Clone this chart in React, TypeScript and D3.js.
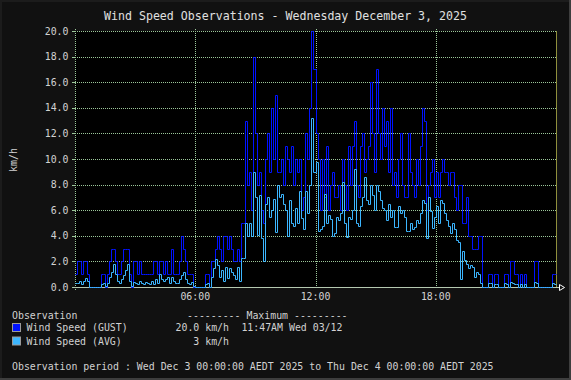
import React, { useEffect } from "react";
import * as d3 from "d3";

const TITLE = "Wind Speed Observations - Wednesday December 3, 2025";
const Y_TICKS = [0, 2, 4, 6, 8, 10, 12, 14, 16, 18, 20];
const X_TICKS = [6, 12, 18];
const X_TICK_LABELS = ["06:00", "12:00", "18:00"];
const STEP_HOURS = 0.1; // one sample every 6 minutes

// Wind gust (km/h), 00:00 -> 23:54, 6-minute steps
const gust = [
  1, 2, 2, 1, 2, 2, 1, 0, 0, 0, 0, 0, 0, 1, 1, 0, 1, 2, 3, 3,
  2, 1, 1, 2, 3, 3, 3, 1, 0, 2, 2, 1, 2, 1, 1, 1, 1, 1, 1, 2,
  2, 1, 2, 2, 1, 2, 1, 1, 3, 1, 1, 1, 2, 4, 3, 2, 1, 1, 1, 0,
  0, 0, 0, 0, 0, 1, 1, 0, 2, 2, 3, 4, 3, 2, 4, 4, 3, 4, 3, 2,
  2, 3, 2, 5, 5, 13, 8, 9, 6, 18, 12, 8, 9, 6, 5, 10, 12, 9, 14, 10,
  15, 9, 9, 10, 8, 11, 10, 9, 11, 8, 10, 9, 10, 6, 7, 12, 10, 14, 20, 17,
  12, 10, 6, 10, 7, 11, 6, 8, 9, 7, 7, 8, 6, 10, 8, 6, 11, 8, 11, 13,
  8, 7, 11, 12, 9, 10, 11, 16, 12, 9, 17, 12, 10, 14, 11, 13, 9, 14, 8, 9,
  7, 10, 12, 8, 7, 7, 12, 9, 8, 7, 10, 8, 11, 14, 13, 6, 8, 9, 10, 7,
  9, 7, 9, 10, 9, 9, 8, 9, 9, 7, 6, 8, 8, 5, 5, 7, 4, 4, 3, 3,
  3, 4, 4, 0, 0, 0, 1, 1, 0, 1, 1, 0, 0, 0, 1, 1, 0, 2, 2, 1,
  1, 0, 1, 0, 1, 0, 0, 0, 0, 2, 2, 0, 0, 0, 0, 0, 0, 0, 1, 1,
];

// Average wind speed (km/h)
const avg = [
  0.3, 0.3, 0.5, 0.2, 0.5, 0.7, 0.5, 0, 0, 0, 0, 0, 0, 0.2, 0.3, 0.1, 0.3, 0.8, 1.2, 1.8,
  1.0, 0.5, 0.3, 0.6, 0.9, 1.3, 1.8, 0.5, 0.1, 0.4, 0.3, 0.2, 0.5, 0.3, 0.2, 0.4, 0.3, 0.2, 0.5, 0.2,
  0.6, 0.3, 1.0, 0.6, 0.5, 0.6, 0.8, 0.3, 0.8, 0.5, 0.3, 0.3, 0.6, 0.9, 1.2, 0.6, 0.3, 0.2, 0.4, 0.1,
  0, 0, 0, 0, 0, 0.2, 0.3, 0, 0.8, 1.5, 2.2, 1.7, 0.8, 1.3, 0.5, 1.6, 0.7, 1.5, 1.2, 0.9,
  0.6, 1.6, 0.5, 2.3, 2.3, 5.0, 4.0, 5.0, 4.0, 9.0, 7.0, 4.1, 7.2, 3.8, 2.0, 6.5, 7.0, 5.5, 6.0, 6.9,
  4.3, 8.0, 7.0, 7.3, 6.5, 6.0, 4.0, 6.8, 5.0, 4.8, 6.2, 5.0, 7.5, 5.4, 4.5, 7.5, 5.8, 8.0, 13.2, 9.0,
  9.8, 4.4, 4.5, 4.8, 7.3, 5.0, 5.6, 5.3, 4.0, 4.2, 5.5, 5.2, 5.8, 8.2, 5.0, 3.9, 5.5, 5.3, 6.0, 9.2,
  5.0, 4.8, 6.3, 7.0, 8.6, 6.8, 6.5, 8.0, 7.2, 6.0, 8.0, 7.5, 6.8, 6.2, 6.0, 5.2, 6.5, 5.5, 6.0, 4.7,
  4.7, 6.3, 5.8, 6.0, 5.5, 4.4, 4.4, 5.0, 4.5, 4.7, 5.2, 5.0, 5.8, 6.8, 6.6, 3.8, 7.0, 5.9, 4.6, 5.5,
  6.3, 5.0, 6.8, 6.6, 5.8, 5.2, 4.8, 4.2, 5.0, 4.5, 3.7, 3.5, 0.6, 2.8, 2.1, 1.8, 1.5, 1.7, 1.6, 0.8,
  1.2, 1.0, 0.3, 0, 0, 0, 0.3, 0.3, 0, 0.2, 0.2, 0, 0, 0, 0.3, 0.2, 0, 0.4, 0.3, 0.2,
  0.2, 0, 0.2, 0, 0.2, 0, 0, 0, 0, 0.4, 0.3, 0, 0, 0, 0, 0, 0, 0, 0.3, 0.2,
];

const LEGEND_NAMES = ["Wind Speed (GUST)", "Wind Speed (AVG)"];
const LEGEND_MAX = ["20.0", "3"];
const LEGEND_UNIT = ["km/h", "km/h"];
const LEGEND_WHEN = ["11:47AM Wed 03/12", ""];
const PERIOD = "Observation period : Wed Dec 3 00:00:00 AEDT 2025 to Thu Dec 4 00:00:00 AEDT 2025";

const W = 571;
const H = 380;
const L = 75;
const R = 556;
const T = 31;
const B = 287;
const GUST_C = "#0012ff";
const AVG_C = "#3cb6ff";
const GRID_C = "#9cc79a";
const TEXT_C = "#d2d2d2";
const FONT = "'DejaVu Sans Mono', 'Liberation Mono', monospace";

export default function App() {
  useEffect(() => {
    document.body.style.margin = "0";
    document.body.style.background = "#111";
  }, []);

  const x = d3.scaleLinear().domain([0, 24]).range([L, R]);
  const y = d3.scaleLinear().domain([0, 20]).range([B, T]);

  const toPts = (arr: number[]) => {
    const pts = arr.map((v, i) => ({ t: i * STEP_HOURS, v }));
    pts.push({ t: 24, v: arr[arr.length - 1] });
    return pts;
  };
  const line = d3
    .line<{ t: number; v: number }>()
    .x((d) => Math.round(x(d.t)) + 0.5)
    .y((d) => Math.round(y(d.v)) + 0.5)
    .curve(d3.curveStepAfter);

  const gustPath = line(toPts(gust)) || "";
  const avgPath = line(toPts(avg)) || "";

  return (
    <svg
      width={W}
      height={H}
      style={{ position: "fixed", left: 0, top: 0, display: "block" }}
      fontFamily={FONT}
    >
      <rect x={0} y={0} width={W} height={H} fill="#111111" />
      <rect x={0} y={0} width={W} height={2} fill="#1c1c1c" />
      <rect x={0} y={0} width={2} height={H} fill="#1c1c1c" />
      <rect x={W - 2} y={0} width={2} height={H} fill="#3e3e3e" />
      <rect x={0} y={H - 2} width={W} height={2} fill="#3e3e3e" />

      <text x={W / 2} y={19.5} fill="#e0e0e0" fontSize={11.6} textAnchor="middle">
        {TITLE}
      </text>

      <rect x={L} y={T} width={R - L} height={B - T} fill="#000" />

      {/* horizontal grid */}
      {Y_TICKS.filter((v) => v > 0).map((v) => (
        <line
          key={"hg" + v}
          x1={L}
          x2={R}
          y1={Math.round(y(v)) + 0.5}
          y2={Math.round(y(v)) + 0.5}
          stroke={GRID_C}
          strokeDasharray="1,1"
          strokeWidth={1}
        />
      ))}
      {/* vertical grid */}
      {X_TICKS.map((h) => (
        <line
          key={"vg" + h}
          x1={Math.round(x(h)) + 0.5}
          x2={Math.round(x(h)) + 0.5}
          y1={T - 2}
          y2={B + 2}
          stroke={GRID_C}
          strokeDasharray="1,1"
          strokeWidth={1}
        />
      ))}
      {/* y tick marks */}
      {Y_TICKS.map((v) => (
        <line
          key={"yt" + v}
          x1={L - 3}
          x2={L}
          y1={Math.round(y(v)) + 0.5}
          y2={Math.round(y(v)) + 0.5}
          stroke={GRID_C}
          strokeWidth={1}
        />
      ))}
      {/* left axis */}
      <line x1={L + 0.5} x2={L + 0.5} y1={T - 2} y2={B + 3} stroke={GRID_C} strokeDasharray="1,1" />
      {/* right border */}
      <line x1={R + 0.5} x2={R + 0.5} y1={T} y2={B} stroke="#8f8f3c" strokeWidth={1} />
      {/* x axis */}
      <line x1={L - 2} x2={R + 7} y1={B + 0.5} y2={B + 0.5} stroke="#b4c8b0" strokeWidth={1} />
      <polygon
        points={`${R + 3.5},${B - 2.5} ${R + 8.5},${B + 0.5} ${R + 3.5},${B + 3.5}`}
        fill="#111"
        stroke="#ffffff"
        strokeWidth={1}
      />

      {/* data */}
      <path d={gustPath} fill="none" stroke={GUST_C} strokeWidth={1} />
      <path d={avgPath} fill="none" stroke={AVG_C} strokeWidth={1} />

      {/* y labels */}
      {Y_TICKS.map((v) => (
        <text
          key={"yl" + v}
          x={68.5}
          y={y(v) + 3.6}
          fill={TEXT_C}
          fontSize={9.9}
          textAnchor="end"
        >
          {v.toFixed(1)}
        </text>
      ))}
      {/* x labels */}
      {X_TICKS.map((h, i) => (
        <text key={"xl" + h} x={x(h)} y={300} fill={TEXT_C} fontSize={9.9} textAnchor="middle">
          {X_TICK_LABELS[i]}
        </text>
      ))}
      <text
        transform="translate(16.5,160) rotate(-90)"
        fill={TEXT_C}
        fontSize={9.9}
        textAnchor="middle"
      >
        km/h
      </text>

      {/* legend */}
      <text x={12} y={318.5} fill={TEXT_C} fontSize={9.9}>
        Observation
      </text>
      <text x={187} y={318.5} fill={TEXT_C} fontSize={9.9}>
        --------- Maximum ---------
      </text>
      {LEGEND_NAMES.map((name, i) => {
        const by = 323 + i * 13.5;
        return (
          <g key={"lg" + i}>
            <rect
              x={12.5}
              y={by + 0.5}
              width={8}
              height={8}
              fill={i === 0 ? GUST_C : AVG_C}
              stroke="#9a9a9a"
              strokeWidth={1}
            />
            <text x={26.6} y={by + 8.3} fill={TEXT_C} fontSize={9.9}>
              {name}
            </text>
            <text x={199.3} y={by + 8.3} fill={TEXT_C} fontSize={9.9} textAnchor="end">
              {LEGEND_MAX[i]}
            </text>
            <text x={205.2} y={by + 8.3} fill={TEXT_C} fontSize={9.9}>
              {LEGEND_UNIT[i]}
            </text>
            {LEGEND_WHEN[i] && (
              <text x={241.4} y={by + 8.3} fill={TEXT_C} fontSize={9.9}>
                {LEGEND_WHEN[i]}
              </text>
            )}
          </g>
        );
      })}
      <text x={12} y={369.5} fill={TEXT_C} fontSize={9.9}>
        {PERIOD}
      </text>
    </svg>
  );
}
